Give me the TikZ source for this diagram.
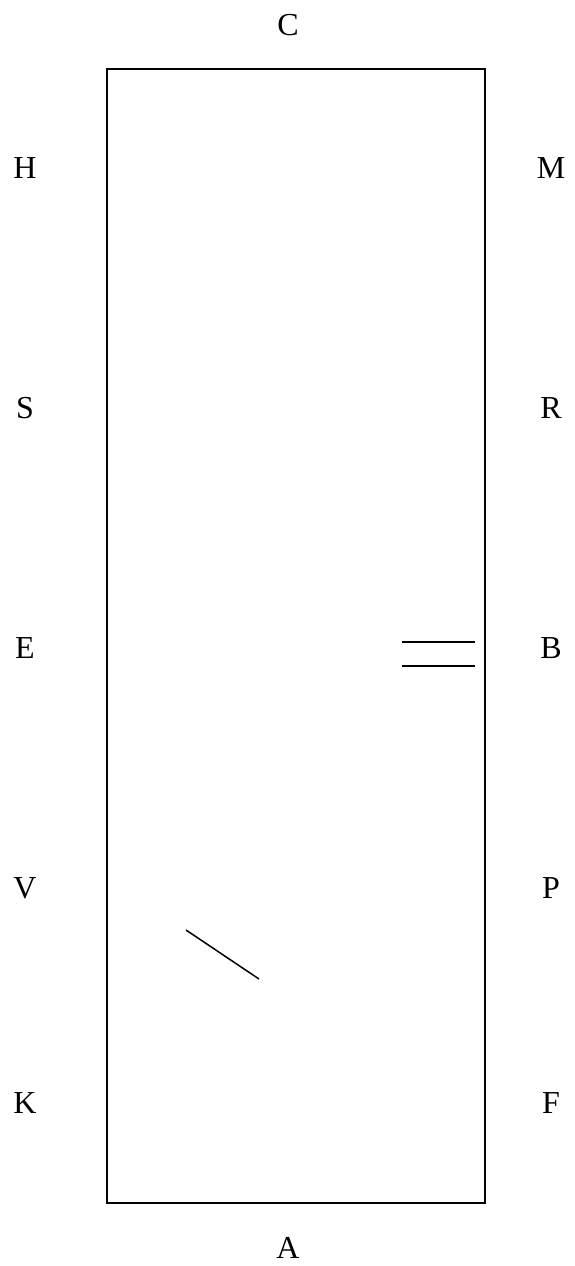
\documentclass[tikz,border=0pt]{standalone}
\usepackage{fontspec}
\setmainfont{Liberation Serif}
\begin{document}
\begin{tikzpicture}[x=0.5pt, y=-0.5pt, font=\fontsize{16}{19}\selectfont, every node/.style={inner sep=0pt, outer sep=0pt, anchor=center}, line join=miter]
	\useasboundingbox (0, 0) rectangle (574, 1266);
	
	% Sân
	\draw[line width=1pt] (107, 69) rectangle (485, 1203);
	
	% Chữ hai đầu
	\node (C) at (288, 25) {C};
	\node (A) at (288, 1248) {A};
	
	% Chữ bên trái
	\node (H) at (25, 168) {H};
	\node (S) at (25, 408) {S};
	\node (E) at (25, 648) {E};
	\node (V) at (25, 888) {V};
	\node (K) at (25, 1103) {K};
	
	% Chữ bên phải
	\node (M) at (551, 168) {M};
	\node (R) at (551, 408) {R};
	\node (B) at (551, 648) {B};
	\node (P) at (551, 888) {P};
	\node (F) at (551, 1103) {F};
	
	% Vạch
	\draw[line width=0.75pt] (402, 642) -- (475, 642);
	\draw[line width=0.75pt] (402, 666) -- (475, 666);
	\draw[line width=0.75pt] (186, 930) -- (259, 979);
	
\end{tikzpicture}
\end{document}
